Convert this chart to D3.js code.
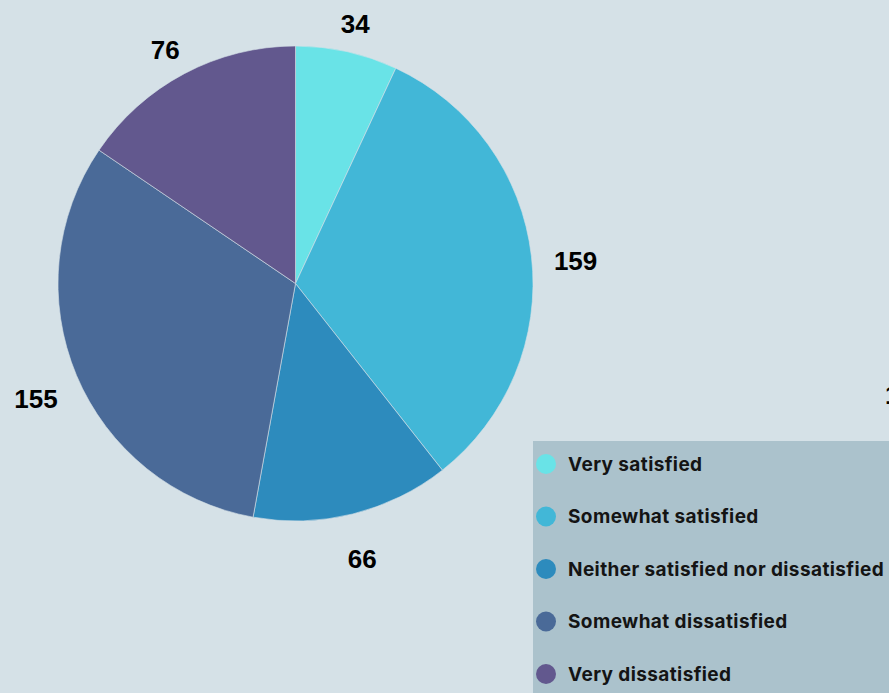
<!DOCTYPE html>
<html>
<head>
<meta charset="utf-8">
<script src="https://cdn.jsdelivr.net/npm/d3@7/dist/d3.min.js"></script>
<style>
  html, body { margin: 0; padding: 0; background: #d5e1e7; }
  svg { display: block; }
</style>
</head>
<body>
<svg id="chart" width="889" height="693"></svg>
<script>
// Survey responses on satisfaction
const categories = [
  "Very satisfied",
  "Somewhat satisfied",
  "Neither satisfied nor dissatisfied",
  "Somewhat dissatisfied",
  "Very dissatisfied"
];
const counts = [34, 159, 66, 155, 76];
const colors = ["#69e3e7", "#42b7d7", "#2d8bbd", "#4a6a98", "#62588e"];

const width = 889, height = 693;
const cx = 295.5, cy = 283.5, radius = 237.5;
const labelRadius = 275;

const svg = d3.select("#chart");
svg.append("rect").attr("width", width).attr("height", height).attr("fill", "#d5e1e7");

const data = categories.map((c, i) => ({ category: c, value: counts[i], color: colors[i] }));

const pie = d3.pie().value(d => d.value).sort(null);
const arcs = pie(data);
const arc = d3.arc().innerRadius(0).outerRadius(radius);

const g = svg.append("g").attr("transform", `translate(${cx},${cy})`);

g.selectAll("path.slice")
  .data(arcs)
  .join("path")
  .attr("class", "slice")
  .attr("d", arc)
  .attr("fill", d => d.data.color)
  .attr("stroke", "#d5e1e7")
  .attr("stroke-opacity", 0.6)
  .attr("stroke-width", 1);

// Value labels sit outside the rim, nudged a little further out on the sides
const labelFont = 26;
g.selectAll("text.value")
  .data(arcs)
  .join("text")
  .attr("class", "value")
  .attr("transform", d => {
    const a = (d.startAngle + d.endAngle) / 2;
    const x = Math.sin(a) * (labelRadius + 7 * Math.abs(Math.sin(a)));
    const y = -Math.cos(a) * labelRadius + 9;
    return `translate(${x},${y})`;
  })
  .attr("text-anchor", "middle")
  .attr("dominant-baseline", "central")
  .attr("font-family", "'Liberation Sans', Arial, sans-serif")
  .attr("font-weight", "bold")
  .attr("font-size", labelFont)
  .attr("fill", "#000")
  .text(d => d.data.value);

// Label of the neighbouring panel, clipped at the right edge
svg.append("text")
  .attr("x", 885)
  .attr("y", 404)
  .attr("font-family", "'Liberation Sans', Arial, sans-serif")
  .attr("font-weight", "bold")
  .attr("font-size", 26)
  .attr("fill", "#000")
  .text("1");

// Legend
const legend = svg.append("g").attr("transform", "translate(533,441)");
legend.append("rect")
  .attr("width", width - 533)
  .attr("height", height - 441)
  .attr("fill", "#abc2cc");

const rowY = d3.scalePoint().domain(categories).range([23, 233]);

const items = legend.selectAll("g.item")
  .data(data)
  .join("g")
  .attr("class", "item")
  .attr("transform", d => `translate(0,${rowY(d.category)})`);

items.append("circle")
  .attr("cx", 13)
  .attr("cy", 0)
  .attr("r", 10)
  .attr("fill", d => d.color);

items.append("text")
  .attr("x", 35)
  .attr("y", 0)
  .attr("dominant-baseline", "central")
  .attr("font-family", "Inter, 'Liberation Sans', sans-serif")
  .attr("font-weight", 700)
  .attr("font-size", 19)
  .attr("letter-spacing", 0.4)
  .attr("fill", "#141414")
  .text(d => d.category);
</script>
</body>
</html>
